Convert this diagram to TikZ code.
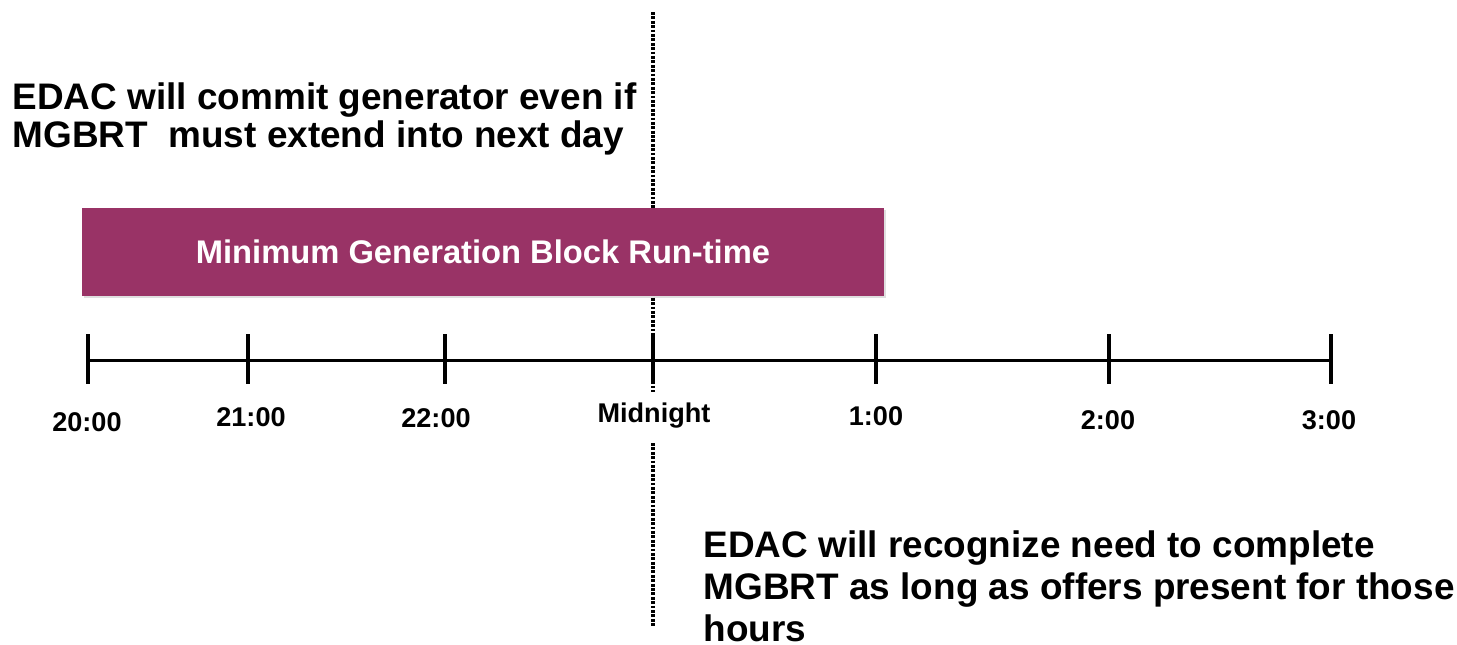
\documentclass[tikz,border=0pt]{standalone}
\usepackage{fontspec}
\setmainfont{Liberation Sans}
\usetikzlibrary{positioning,calc,shadows}
\definecolor{blockred}{RGB}{153,51,102}

\begin{document}
\begin{tikzpicture}[x=0.01cm,y=-0.01cm,
    tick/.style={line width=1.4pt},
    axis/.style={line width=0.85pt},
    midline/.style={line width=1pt,dash pattern=on 0.8pt off 0.45pt},
    hour/.style={inner sep=0pt,font=\bfseries\fontsize{7.7}{9}\selectfont},
    note/.style={inner sep=0pt,align=left,anchor=north west},
    runtime/.style={fill=blockred,text=white,inner sep=0pt,
      minimum width=8.02cm,minimum height=0.88cm,
      font=\bfseries\fontsize{9.3}{11}\selectfont,
      drop shadow={shadow xshift=0.5pt,shadow yshift=-0.6pt,opacity=0.25}}]
  \useasboundingbox (0,0) rectangle (1457,644);

  % the day boundary
  \coordinate (mid-top) at (653,12);
  \coordinate (mid-gap-top) at (653,392);
  \coordinate (mid-gap-bottom) at (653,443);
  \coordinate (mid-bottom) at (653,627);
  \draw [midline] (mid-top) -- (mid-gap-top);
  \draw [midline] (mid-gap-bottom) -- (mid-bottom);

  \node [runtime] (block) at (483,252) {Minimum Generation Block Run-time};

  % time axis
  \foreach \x/\name in {88/t20,248/t21,445/t22,653/t24,876/t1,1109/t2,1331/t3}
    \coordinate (\name) at (\x,360);
  \draw [axis] (t20) -- (t3);
  \foreach \name in {t20,t21,t22,t24,t1,t2,t3}
    \draw [tick] ($(\name)+(0,-26)$) -- ($(\name)+(0,24)$);

  \node [hour] (h20) at (87,422) {20:00};
  \node [hour] (h21) at (251,417) {21:00};
  \node [hour] (h22) at (436,418) {22:00};
  \node [hour] (h24) at (654,416) {Midnight};
  \node [hour] (h1) at (876,416) {1:00};
  \node [hour] (h2) at (1108,420) {2:00};
  \node [hour] (h3) at (1329,420) {3:00};

  \node [note,font=\bfseries\fontsize{10.5}{10.8}\selectfont] (commit) at (12,82)
    {EDAC will commit generator even if\\MGBRT\ \ must extend into next day};
  \node [note,font=\bfseries\fontsize{10.5}{11.95}\selectfont] (recognize) at (703,530)
    {EDAC will recognize need to complete\\MGBRT as long as offers present for those\\hours};
\end{tikzpicture}
\end{document}
